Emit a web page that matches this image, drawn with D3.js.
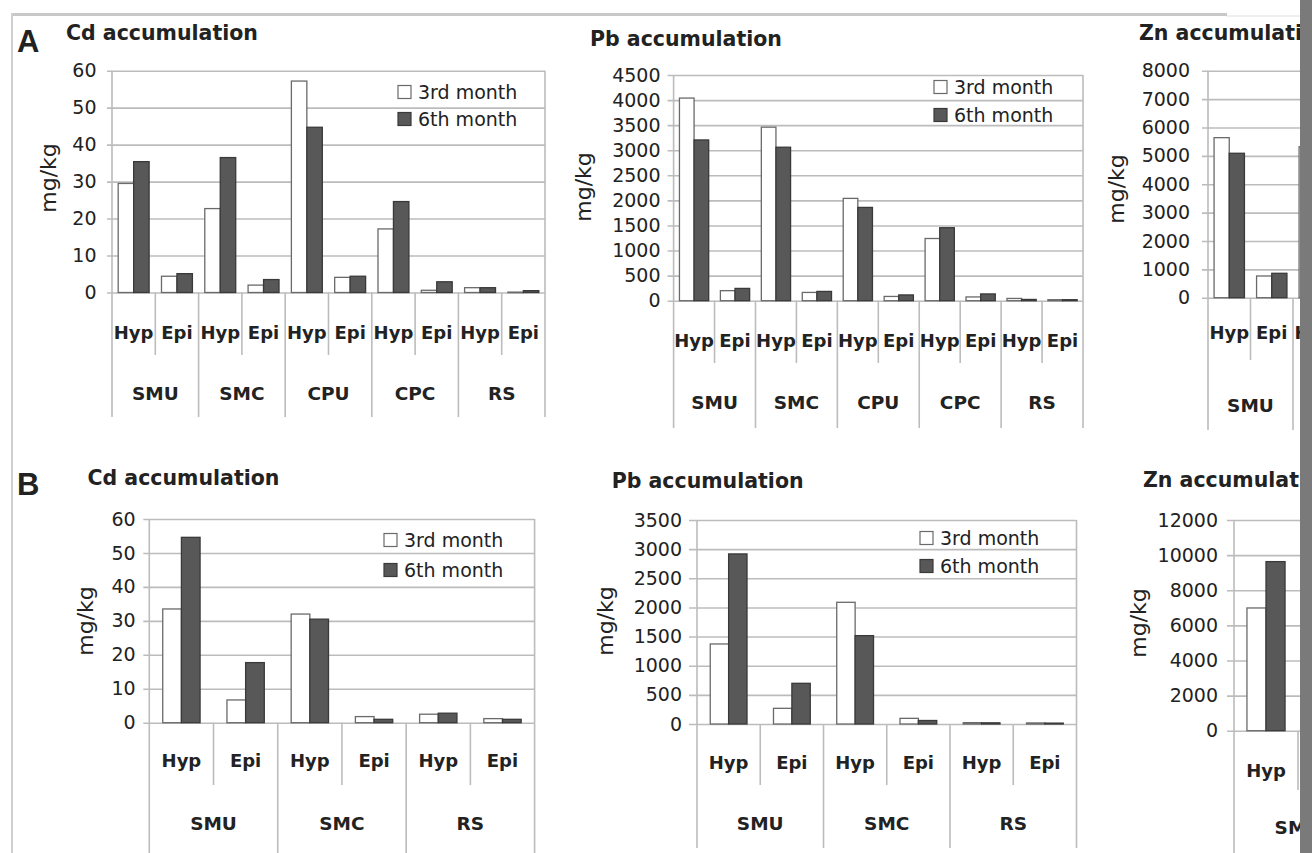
<!DOCTYPE html>
<html>
<head>
<meta charset="utf-8">
<script src="https://cdn.jsdelivr.net/npm/d3@7"></script>
<style>
  body { margin: 0; background: #fff; }
  svg { display: block; }
  text { font-family: "DejaVu Sans", sans-serif; fill: #222; }
</style>
</head>
<body>
<div id="chart"></div>
<script>
// Metal accumulation, Hyp vs Epi, 3rd and 6th month

// ---- data ----
const seriesNames = ['3rd month', '6th month'];
const subCats = ['Hyp', 'Epi'];
const groupsA = ['SMU', 'SMC', 'CPU', 'CPC', 'RS'];
const groupsB = ['SMU', 'SMC', 'RS'];

// row A (order: SMU Hyp, SMU Epi, SMC Hyp, SMC Epi, ...)
const cdA3rd = [29.5, 4.4, 22.7, 2.0, 57.2, 4.1, 17.2, 0.6, 1.3, 0.1];
const cdA6th = [35.4, 5.1, 36.5, 3.5, 44.7, 4.4, 24.6, 2.9, 1.3, 0.5];
const pbA3rd = [4040, 200, 3460, 165, 2040, 85, 1240, 75, 45, 20];
const pbA6th = [3205, 245, 3060, 185, 1860, 115, 1455, 135, 25, 20];
const znA3rd = [5640, 765, 5320];   // rest is cut off in the source
const znA6th = [5090, 860];

// row B
const cdB3rd = [33.5, 6.7, 32.0, 1.8, 2.5, 1.2];
const cdB6th = [54.6, 17.7, 30.5, 1.0, 2.8, 1.0];
const pbB3rd = [1373, 269, 2088, 97, 23, 18];
const pbB6th = [2918, 698, 1516, 60, 20, 15];
const znB3rd = [6990];
const znB6th = [9630];

// tick labels
const cdTicksA = [0, 10, 20, 30, 40, 50, 60];
const pbTicksA = [0, 500, 1000, 1500, 2000, 2500, 3000, 3500, 4000, 4500];
const znTicksA = [0, 1000, 2000, 3000, 4000, 5000, 6000, 7000, 8000];
const cdTicksB = [0, 10, 20, 30, 40, 50, 60];
const pbTicksB = [0, 500, 1000, 1500, 2000, 2500, 3000, 3500];
const znTicksB = [0, 2000, 4000, 6000, 8000, 10000, 12000];

const W = 1312, H = 853;
const pageEdge = 1300;   // dark scanner edge starts here
const gridColor = '#bcbcbc';
const darkFill = '#585858';

const svg = d3.select('#chart').append('svg')
    .attr('width', W)
    .attr('height', H);

svg.append('rect').attr('width', W).attr('height', H).attr('fill', '#fff');

// page frame
svg.append('line').attr('x1', 11).attr('x2', 1227).attr('y1', 14.5).attr('y2', 14.5)
    .attr('stroke', '#c8c8c8').attr('stroke-width', 3);
svg.append('line').attr('x1', 1227).attr('x2', pageEdge).attr('y1', 16).attr('y2', 16)
    .attr('stroke', '#dedede').attr('stroke-width', 1);
svg.append('line').attr('x1', 12).attr('x2', 12).attr('y1', 13).attr('y2', H)
    .attr('stroke', '#cfcfcf').attr('stroke-width', 2);

const drawPanel = (p) => {
    const g = svg.append('g');
    const slots = [];
    p.groups.forEach(gr => subCats.forEach(s => slots.push(gr + '|' + s)));

    const x = d3.scaleBand().domain(slots).range([p.x0, p.x1]).padding(0);
    const inner = d3.scaleBand().domain(seriesNames).range([0, x.bandwidth()])
        .paddingInner(0).paddingOuter(p.pad);
    const yMax = p.ticks[p.ticks.length - 1];
    const y = d3.scaleLinear().domain([0, yMax]).range([p.yZero, p.yTop]);

    // gridlines + tick labels
    const axis = d3.axisLeft(y)
        .tickValues(p.ticks)
        .tickSizeInner(-(p.x1 - p.x0 + p.tickOut))
        .tickSizeOuter(0)
        .tickPadding(p.x0 - p.tickOut - p.tickRight)
        .tickFormat(d3.format('d'));

    const ag = g.append('g')
        .attr('transform', `translate(${p.x0 - p.tickOut},0)`)
        .call(axis);
    ag.select('.domain').remove();
    ag.selectAll('.tick line').attr('stroke', gridColor).attr('stroke-width', 1.6);
    ag.selectAll('.tick text')
        .style('font-family', '"DejaVu Sans", sans-serif')
        .style('font-size', '19px')
        .attr('fill', '#2a2a2a');

    // vertical category lines
    const n = slots.length;
    const step = x.step();
    d3.range(n + 1).forEach(i => {
        const xx = p.x0 + i * step;
        if (xx > pageEdge) return;
        const isGroup = i % 2 === 0;
        const top = (i === 0 || i === n) ? p.yTop : p.yZero;
        g.append('line')
            .attr('x1', xx).attr('x2', xx)
            .attr('y1', top)
            .attr('y2', isGroup ? p.grpBottom : p.innerBottom)
            .attr('stroke', gridColor)
            .attr('stroke-width', 1.6);
    });

    // bars
    const seriesVals = [p.v3rd, p.v6th];
    seriesNames.forEach((s, si) => {
        const vals = seriesVals[si];
        g.selectAll(null)
            .data(vals.map((v, i) => ({ slot: slots[i], v })))
            .enter()
            .append('rect')
            .attr('x', d => x(d.slot) + inner(s))
            .attr('y', d => y(d.v))
            .attr('width', inner.bandwidth())
            .attr('height', d => Math.max(0.5, y(0) - y(d.v)))
            .attr('fill', si === 0 ? '#fff' : darkFill)
            .attr('stroke', si === 0 ? '#6a6a6a' : '#3a3a3a')
            .attr('stroke-width', 1.3);
    });

    // sub labels (Hyp / Epi), only the ones left of the page edge
    g.selectAll(null)
        .data(slots.filter(d => x(d) + step / 2 - 20 < pageEdge))
        .enter()
        .append('text')
        .attr('x', d => x(d) + step / 2)
        .attr('y', p.subY)
        .attr('text-anchor', 'middle')
        .attr('dominant-baseline', 'central')
        .style('font-size', '18px')
        .style('font-weight', 'bold')
        .text(d => d.split('|')[1]);

    // group labels
    const groupX = i => p.x0 + (i * 2 + 1) * step;
    g.selectAll(null)
        .data(p.groups.filter((d, i) => groupX(i) - 24 < pageEdge))
        .enter()
        .append('text')
        .attr('x', (d, i) => groupX(i))
        .attr('y', p.grpY)
        .attr('text-anchor', 'middle')
        .attr('dominant-baseline', 'central')
        .style('font-size', '18.5px')
        .style('font-weight', 'bold')
        .text(d => d);

    // axis title
    g.append('text')
        .attr('transform', `translate(${p.yLabelX},${p.yLabelY}) rotate(-90)`)
        .attr('text-anchor', 'middle')
        .attr('dominant-baseline', 'central')
        .style('font-size', '22px')
        .text('mg/kg');

    // panel title
    g.append('text')
        .attr('x', p.titleX)
        .attr('y', p.titleY)
        .style('font-size', '20.5px')
        .style('font-weight', 'bold')
        .attr('fill', '#111')
        .text(p.title);

    // legend
    if (p.legendX !== undefined) {
        seriesNames.forEach((s, si) => {
            const ly = p.legendY[si];
            g.append('rect')
                .attr('x', p.legendX)
                .attr('y', ly - 6.5)
                .attr('width', 13)
                .attr('height', 13)
                .attr('fill', si === 0 ? '#fff' : darkFill)
                .attr('stroke', si === 0 ? '#6a6a6a' : '#3a3a3a')
                .attr('stroke-width', 1.2);
            g.append('text')
                .attr('x', p.legendX + 20)
                .attr('y', ly)
                .attr('dominant-baseline', 'central')
                .style('font-size', '19px')
                .text(s);
        });
    }
};

// ---- row A ----
drawPanel({
    title: 'Cd accumulation', groups: groupsA, v3rd: cdA3rd, v6th: cdA6th, ticks: cdTicksA,
    x0: 112, x1: 545, yTop: 70.7, yZero: 292.5, tickOut: 5, tickRight: 96.5,
    subY: 332, grpY: 393, innerBottom: 355, grpBottom: 417,
    yLabelX: 48, yLabelY: 178, titleX: 66, titleY: 40,
    legendX: 398, legendY: [92, 119], pad: 0.4
});
drawPanel({
    title: 'Pb accumulation', groups: groupsA, v3rd: pbA3rd, v6th: pbA6th, ticks: pbTicksA,
    x0: 673.6, x1: 1083, yTop: 75, yZero: 300.7, tickOut: 6, tickRight: 660.5,
    subY: 340, grpY: 402, innerBottom: 363, grpBottom: 428,
    yLabelX: 583, yLabelY: 187, titleX: 590, titleY: 46,
    legendX: 934, legendY: [87, 115], pad: 0.4
});
drawPanel({
    title: 'Zn accumulation', groups: groupsA, v3rd: znA3rd, v6th: znA6th, ticks: znTicksA,
    x0: 1208, x1: 1633, yTop: 70.7, yZero: 297.7, tickOut: 6, tickRight: 1190,
    subY: 332, grpY: 405, innerBottom: 360, grpBottom: 430,
    yLabelX: 1116, yLabelY: 189, titleX: 1139, titleY: 40, pad: 0.4
});

// panel letters
svg.append('text').attr('x', 17).attr('y', 52)
    .style('font-family', '"Liberation Sans", Arial, sans-serif')
    .style('font-size', '31px').style('font-weight', 'bold').attr('fill', '#111')
    .text('A');
svg.append('text').attr('x', 17).attr('y', 495)
    .style('font-family', '"Liberation Sans", Arial, sans-serif')
    .style('font-size', '31px').style('font-weight', 'bold').attr('fill', '#111')
    .text('B');

// ---- row B ----
drawPanel({
    title: 'Cd accumulation', groups: groupsB, v3rd: cdB3rd, v6th: cdB6th, ticks: cdTicksB,
    x0: 149.3, x1: 534.6, yTop: 519, yZero: 722.7, tickOut: 6, tickRight: 135.7,
    subY: 760, grpY: 823, innerBottom: 785, grpBottom: 853,
    yLabelX: 85, yLabelY: 621, titleX: 87.5, titleY: 485,
    legendX: 384, legendY: [540, 570], pad: 0.72
});
drawPanel({
    title: 'Pb accumulation', groups: groupsB, v3rd: pbB3rd, v6th: pbB6th, ticks: pbTicksB,
    x0: 697, x1: 1076.5, yTop: 520, yZero: 724, tickOut: 8, tickRight: 682,
    subY: 762, grpY: 823, innerBottom: 785, grpBottom: 848,
    yLabelX: 605, yLabelY: 621, titleX: 611.7, titleY: 488,
    legendX: 920, legendY: [538, 566], pad: 0.72
});
drawPanel({
    title: 'Zn accumulation', groups: groupsB, v3rd: znB3rd, v6th: znB6th, ticks: znTicksB,
    x0: 1234, x1: 1618, yTop: 520, yZero: 730.7, tickOut: 7, tickRight: 1218,
    subY: 770, grpY: 827, innerBottom: 790, grpBottom: 853,
    yLabelX: 1138, yLabelY: 623, titleX: 1143, titleY: 487, pad: 0.68
});

// scanned page edge on the right
svg.append('rect').attr('x', pageEdge).attr('y', 0).attr('width', W - pageEdge).attr('height', H)
    .attr('fill', '#7a7a7a');
</script>
</body>
</html>
